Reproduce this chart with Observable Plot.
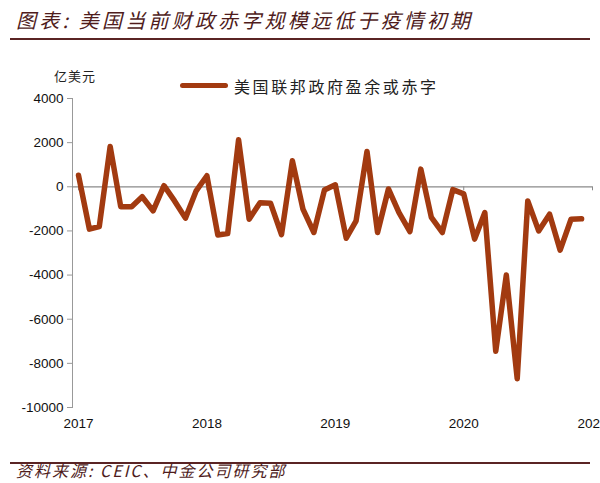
<!DOCTYPE html>
<html>
<head>
<meta charset="utf-8">
<script src="https://cdn.jsdelivr.net/npm/d3@7"></script>
<script src="https://cdn.jsdelivr.net/npm/@observablehq/plot@0.6"></script>
<style>
  html, body { margin: 0; padding: 0; background: #fff; }
  #wrap { position: relative; width: 600px; height: 483px; overflow: hidden; font-family: "Noto Sans CJK SC", sans-serif; }
  #chart { position: absolute; left: 0; top: 0; }
  .title { position: absolute; left: 16px; top: 5px; font-size: 20px; font-style: italic; color: #4f1c1c; letter-spacing: 3.2px; white-space: nowrap; }
  .rule { position: absolute; left: 10px; height: 2px; background: #5a2424; }
  .unit { position: absolute; left: 54px; top: 66px; font-size: 13px; color: #222; letter-spacing: 1px; }
  .swatch { position: absolute; left: 180px; top: 83px; width: 48px; height: 5px; border-radius: 3px; }
  .legtext { position: absolute; left: 234px; top: 74px; font-size: 16px; color: #222; letter-spacing: 2.6px; white-space: nowrap; }
  .source { position: absolute; left: 16px; top: 458px; font-size: 16px; font-style: italic; color: #4f1c1c; letter-spacing: 2px; white-space: nowrap; }
</style>
</head>
<body>
<div id="wrap">
  <div id="chart"></div>
  <div class="title">图表: 美国当前财政赤字规模远低于疫情初期</div>
  <div class="rule" style="top:38px;width:580px;"></div>
  <div class="unit">亿美元</div>
  <div class="swatch" id="sw"></div>
  <div class="legtext">美国联邦政府盈余或赤字</div>
  <div class="rule" style="top:462px;width:580px;"></div>
  <div class="source">资料来源: CEIC、中金公司研究部</div>
</div>
<script>
const seriesName = "美国联邦政府盈余或赤字";
const years = [2017, 2018, 2019, 2020];
const tickYears = [2017, 2018, 2019, 2020, 2021];
const v2017 = [520, -1920, -1800, 1830, -900, -900, -450, -1090, 50, -640, -1420, -200];
const v2018 = [500, -2180, -2120, 2130, -1470, -720, -750, -2170, 1180, -1010, -2070, -150];
const v2019 = [90, -2330, -1540, 1600, -2070, -100, -1170, -2030, 800, -1390, -2070, -130];
const v2020 = [-320, -2370, -1170, -7450, -4000, -8700, -640, -2000, -1240, -2870, -1470, -1450];
const yTicks = [4000, 2000, 0, -2000, -4000, -6000, -8000, -10000];
const lineColor = "#a23a10";

document.getElementById("sw").style.background = lineColor;

const byYear = [v2017, v2018, v2019, v2020];
const data = [];
years.forEach((y, yi) => {
  byYear[yi].forEach((v, m) => data.push({date: new Date(Date.UTC(y, m, 1)), value: v}));
});
const tickDates = tickYears.map(y => new Date(Date.UTC(y, 0, 1)));

const chart = Plot.plot({
  width: 600,
  height: 483,
  marginTop: 98,
  marginBottom: 76,
  marginLeft: 72,
  marginRight: 8,
  style: {background: "transparent", fontFamily: "Arial, 'Liberation Sans', sans-serif", overflow: "visible"},
  x: {type: "utc", domain: [tickDates[0], tickDates[4]], insetLeft: 6},
  y: {domain: [-10000, 4000]},
  marks: [
    Plot.frame({anchor: "left", stroke: "#999", strokeWidth: 1}),
    Plot.axisY({ticks: yTicks, tickSize: 5, tickPadding: 4, tickFormat: d => String(d), fontSize: 13.5, stroke: "#999", fill: "#111", label: null}),
    Plot.ruleY([0], {stroke: "#8a8a8a", strokeWidth: 1.2}),
    Plot.ruleX(tickDates, {x: d => d, y1: 0, y2: 0, insetBottom: -4, stroke: "#8a8a8a"}),
    Plot.axisX({ticks: tickDates, tickSize: 0, tickPadding: 11, tickFormat: d => String(d.getUTCFullYear()), fontSize: 13.5, fill: "#111", label: null}),
    Plot.line(data, {x: "date", y: "value", stroke: lineColor, strokeWidth: 5.5, strokeLinejoin: "round", strokeLinecap: "round"})
  ]
});
document.getElementById("chart").appendChild(chart);
</script>
</body>
</html>
